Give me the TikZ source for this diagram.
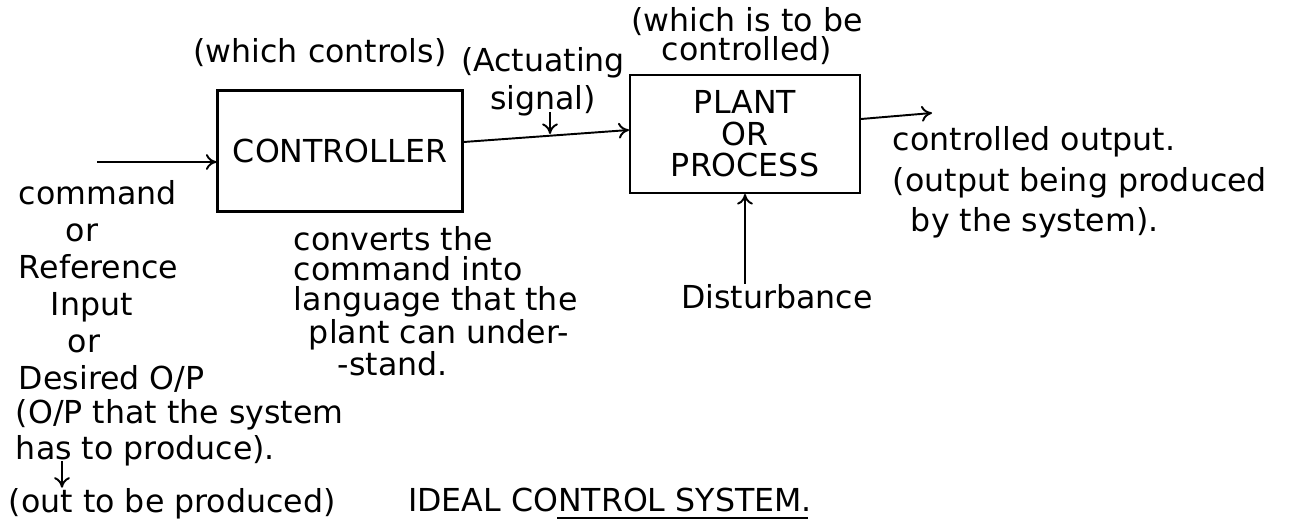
\documentclass[tikz,border=0pt]{standalone}
\usepackage{fontspec}
\setmainfont{DejaVu Sans}
\usetikzlibrary{arrows.meta}

\begin{document}
\begin{tikzpicture}[x=0.02cm, y=-0.02cm, line width=1.1pt,
    every node/.style={inner sep=0pt, font=\fontsize{18}{21}\selectfont},
    blk/.style={draw, line width=1.2pt},
    arr/.style={-{To[length=6pt, width=9pt]}, line width=1.1pt}]
    \useasboundingbox (0,0) rectangle (1308,523);
	\node[blk, minimum width=4.9cm, minimum height=2.42cm] (ctrl) at (340,151) {CONTROLLER};
	\node[blk, minimum width=4.6cm, minimum height=2.36cm, align=center, font=\fontsize{18}{18}\selectfont] (plant) at (745,134) {PLANT\\OR\\PROCESS};
	\node (ctrlnote) at (320,53) {(which controls)};
	\node[align=center, font=\fontsize{18}{16.5}\selectfont] (plantnote) at (747,36) {(which is to be\\controlled)};
	\node[align=center, font=\fontsize{18}{21.5}\selectfont] (act) at (543,82) {(Actuating\\signal)};
	\node[align=left, anchor=north west] (cmd) at (18,180) {command\\\hspace{0.94cm}or\\Reference\\\hspace{0.64cm}Input\\\hspace{0.98cm}or\\Desired O/P};
	\node[align=left, anchor=north west, font=\fontsize{18}{20}\selectfont] (has) at (15,399) {(O/P that the system\\has to produce).};
	\node[anchor=west] (outbe) at (8,504) {(out to be produced)};
	\node[align=left, anchor=north west, font=\fontsize{18}{17}\selectfont] (conv) at (293,226) {converts the\\command into\\language that the\\\hspace{0.3cm}plant can under-\\\hspace{0.88cm}-stand.};
	\node (dist) at (777,297) {Disturbance};
	\node[align=left, anchor=north west, font=\fontsize{18}{23}\selectfont] (outp) at (892,126) {controlled output.\\(output being produced\\\hspace{0.36cm}by the system).};
	\node (title) at (610,500) {IDEAL CONTROL SYSTEM.};
	\coordinate (cmdin) at (97,162);
	\coordinate (outend) at (932,113);
	\coordinate (actend) at (550,134);
	\draw[arr] (cmdin) -- (cmdin -| ctrl.west);
	\draw[arr] ([yshift=0.18cm]ctrl.east) -- ([yshift=0.08cm]plant.west);
	\draw[arr] ([yshift=0.3cm]plant.east) -- (outend);
	\draw[arr] ([yshift=3pt]act.south -| actend) -- (actend);
	\draw[arr] (dist.north -| plant.south) -- (plant.south);
	\draw[arr] ([xshift=0.94cm,yshift=3pt]has.south west) -- ([xshift=0.94cm]has.south west |- outbe.north);
	\draw ([xshift=3.0cm,yshift=-3pt]title.south west) -- ([xshift=-0.1cm,yshift=-3pt]title.south east);
\end{tikzpicture}
\end{document}
